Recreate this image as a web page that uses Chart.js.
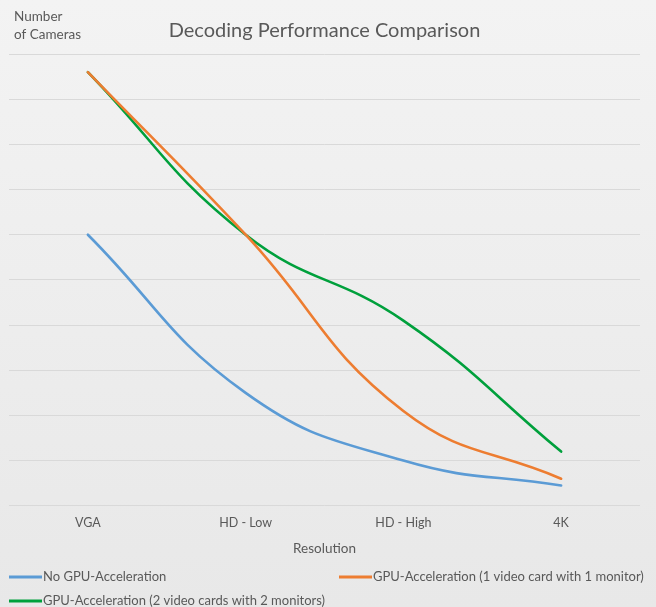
<!DOCTYPE html>
<html>
<head>
<meta charset="utf-8">
<script src="https://cdn.jsdelivr.net/npm/chart.js@4/dist/chart.umd.min.js"></script>
<style>
  html, body { margin: 0; padding: 0; background: #ececec; }
  #wrap { width: 656px; height: 607px; position: relative; }
</style>
</head>
<body>
<div id="wrap"><canvas id="perf"></canvas></div>
<script>
// data
var categories = ['VGA', 'HD - Low', 'HD - High', '4K'];
var noGpu = [6.0, 2.5, 1.0, 0.45];
var gpuOneCard = [9.6, 6.0, 2.1, 0.6];
var gpuTwoCards = [9.6, 6.0, 4.1, 1.2];
var yTicks = [0, 1, 2, 3, 4, 5, 6, 7, 8, 9, 10];

var textGray = '#595959';
var fontFam = 'Lato, "Open Sans", sans-serif';

// background + top-left axis caption
var bgPlugin = {
  id: 'bg',
  beforeDraw: function (chart) {
    var c = chart.ctx;
    var g = c.createLinearGradient(0, 0, 0, chart.height);
    g.addColorStop(0, '#f3f3f3');
    g.addColorStop(1, '#e8e8e8');
    c.save();
    c.fillStyle = g;
    c.fillRect(0, 0, chart.width, chart.height);
    c.restore();
  },
  afterDraw: function (chart) {
    var c = chart.ctx;
    c.save();
    c.fillStyle = textGray;
    c.font = '13.5px ' + fontFam;
    c.textBaseline = 'middle';
    c.fillText('Number', 14, 17);
    c.fillText('of Cameras', 14, 35);
    c.restore();
  }
};

// excel style legend (two columns)
var legendPlugin = {
  id: 'xlLegend',
  afterDraw: function (chart) {
    var c = chart.ctx;
    var slots = [[9, 577], [339, 577], [9, 601]];
    c.save();
    c.font = '13px ' + fontFam;
    c.textBaseline = 'middle';
    chart.data.datasets.forEach(function (ds, i) {
      var p = slots[i];
      c.strokeStyle = ds.borderColor;
      c.lineWidth = 3;
      c.beginPath();
      c.moveTo(p[0], p[1]);
      c.lineTo(p[0] + 33, p[1]);
      c.stroke();
      c.fillStyle = textGray;
      c.fillText(ds.label, p[0] + 34, p[1]);
    });
    c.restore();
  }
};

var ctx = document.getElementById('perf');
var perfChart = new Chart(ctx, {
  type: 'line',
  data: {
    labels: categories,
    datasets: [{
      label: 'No GPU-Acceleration',
      data: noGpu,
      borderColor: '#5b9bd5'
    }, {
      label: 'GPU-Acceleration (1 video card with 1 monitor)',
      data: gpuOneCard,
      borderColor: '#ed7d31'
    }, {
      label: 'GPU-Acceleration (2 video cards with 2 monitors)',
      data: gpuTwoCards,
      borderColor: '#00a03c'
    }]
  },
  options: {
    responsive: true,
    maintainAspectRatio: false,
    animation: false,
    elements: {
      line: { borderWidth: 2.6, tension: 0.45, borderCapStyle: 'round' },
      point: { radius: 0 }
    },
    layout: {
      padding: { left: 9, right: 16, top: 0, bottom: 46 }
    },
    plugins: {
      legend: { display: false },
      tooltip: { enabled: false },
      title: {
        display: true,
        text: 'Decoding Performance Comparison',
        color: textGray,
        font: { family: fontFam, size: 20, weight: 'normal' },
        padding: { top: 19, bottom: 11 }
      }
    },
    scales: {
      x: {
        offset: true,
        grid: { display: false, drawTicks: false },
        border: { display: false },
        ticks: { color: textGray, font: { family: fontFam, size: 12.5 }, padding: 10 },
        title: {
          display: true,
          text: 'Resolution',
          color: textGray,
          font: { family: fontFam, size: 13.5 },
          padding: { top: 0, bottom: 4 }
        }
      },
      y: {
        min: yTicks[0],
        max: yTicks[yTicks.length - 1],
        afterBuildTicks: function (s) {
          s.ticks = yTicks.map(function (v) { return { value: v }; });
        },
        afterFit: function (s) { s.width = 0; },
        grid: { color: '#d9d9d9', lineWidth: 1, drawTicks: false },
        border: { display: false },
        ticks: { display: false }
      }
    }
  },
  plugins: [bgPlugin, legendPlugin]
});
</script>
</body>
</html>
